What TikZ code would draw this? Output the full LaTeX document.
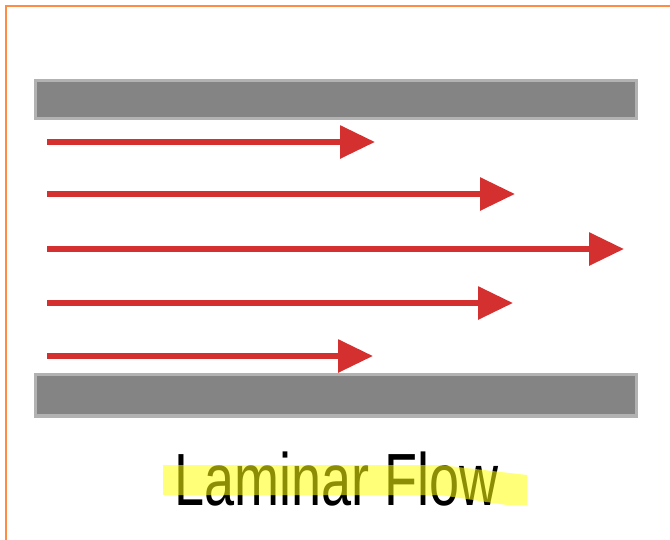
\documentclass[tikz,border=0pt]{standalone}
\usepackage{fontspec}
\setmainfont{Liberation Sans}
\usetikzlibrary{arrows.meta}
\definecolor{frameorange}{RGB}{255,140,66}
\definecolor{wallgray}{RGB}{132,132,132}
\definecolor{walledge}{RGB}{178,178,178}
\definecolor{flowred}{RGB}{212,48,48}
\definecolor{hlyellow}{RGB}{255,255,10}
\tikzset{
  wall/.style={fill=wallgray, draw=walledge, line width=3.5pt},
  flow/.style={draw=flowred, line width=6pt, -{Triangle[length=35pt,width=32pt]}},
}
\begin{document}
\begin{tikzpicture}[x=1pt,y=-1pt]
\useasboundingbox (0,0) rectangle (670,539);
\fill[white] (0,0) rectangle (670,539);
% frame
\draw[frameorange, line width=2.2pt] (6,700) -- (6,6) -- (700,6);
% walls
\draw[wall] (35.5,80.5) rectangle (636.5,118.5);
\draw[wall] (35.5,374.5) rectangle (636.5,416);
% flow arrows
\coordinate (s1) at (47,142); \coordinate (e1) at (375,142);
\coordinate (s2) at (47,194); \coordinate (e2) at (515,194);
\coordinate (s3) at (47,249); \coordinate (e3) at (624,249);
\coordinate (s4) at (47,303); \coordinate (e4) at (513,303);
\coordinate (s5) at (47,356); \coordinate (e5) at (373,356);
\draw[flow] (s1) -- (e1);
\draw[flow] (s2) -- (e2);
\draw[flow] (s3) -- (e3);
\draw[flow] (s4) -- (e4);
\draw[flow] (s5) -- (e5);
% label
\node[font=\fontsize{74}{74}\selectfont, xscale=0.73, inner sep=0pt, anchor=base west, text=black] (label) at (174,505) {Laminar Flow};
\fill[hlyellow, opacity=0.55] (163,465) -- (440,465) -- (527,475) -- (527,505) -- (507,505) -- (440,495) -- (163,495) -- cycle;
\end{tikzpicture}
\end{document}
